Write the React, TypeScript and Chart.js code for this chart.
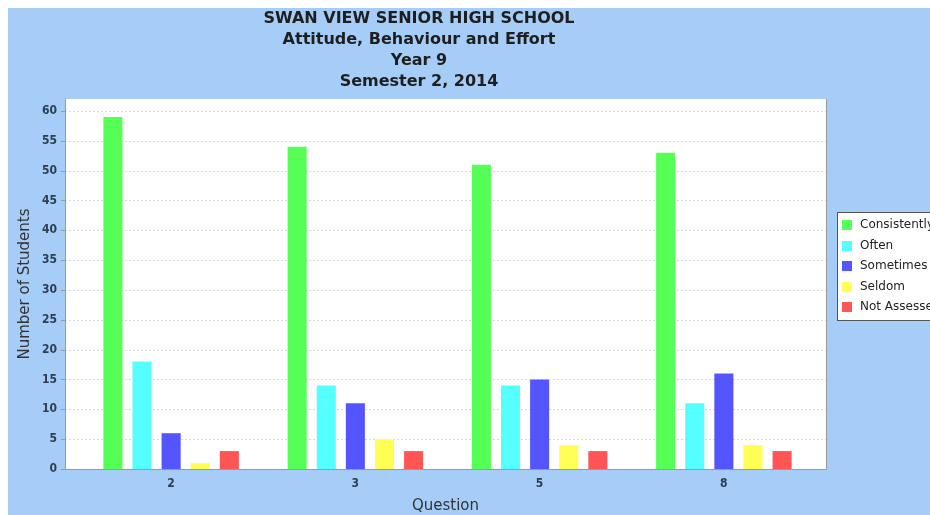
import React, { useEffect, useRef } from "react";
import { Chart, registerables } from "chart.js";

Chart.register(...registerables);

const titleLines = [
  "SWAN VIEW SENIOR HIGH SCHOOL",
  "Attitude, Behaviour and Effort",
  "Year 9",
  "Semester 2, 2014",
];
const categories = ["2", "3", "5", "8"];
const seriesNames = ["Consistently", "Often", "Sometimes", "Seldom", "Not Assessed"];
const consistently = [59, 54, 51, 53];
const often = [18, 14, 14, 11];
const sometimes = [6, 11, 15, 16];
const seldom = [1, 5, 4, 4];
const notAssessed = [3, 3, 3, 3];
const seriesColors = ["#55ff55", "#55ffff", "#5555ff", "#ffff55", "#ff5555"];
const yTitle = "Number of Students";
const xTitle = "Question";
const yMax = 62;
const yStep = 5;

const BG = "#a6cdf8";

if (typeof document !== "undefined") {
  document.body.style.margin = "8px 0 0 8px";
  document.body.style.overflow = "hidden";
}

const decor = {
  id: "decor",
  beforeDraw(chart: any) {
    const { ctx, chartArea, scales } = chart;
    const y = scales.y;
    const L = chartArea.left - 14;
    const R = chartArea.right + 10;
    ctx.save();
    ctx.fillStyle = BG;
    ctx.fillRect(0, 0, chart.width, chart.height);
    ctx.fillStyle = "#ffffff";
    ctx.fillRect(L, chartArea.top, R - L, chartArea.bottom - chartArea.top);
    ctx.strokeStyle = "#dadada";
    ctx.lineWidth = 1;
    ctx.setLineDash([2, 2]);
    for (let v = 0; v <= yMax; v += yStep) {
      const py = Math.round(y.getPixelForValue(v)) + 0.5;
      ctx.beginPath();
      ctx.moveTo(L, py);
      ctx.lineTo(R, py);
      ctx.stroke();
    }
    ctx.restore();
  },
  afterDraw(chart: any) {
    const { ctx, chartArea, scales } = chart;
    const y = scales.y;
    const L = chartArea.left - 14;
    const R = chartArea.right + 10;
    ctx.save();
    ctx.strokeStyle = "#9a9a9a";
    ctx.lineWidth = 1;
    ctx.beginPath();
    ctx.moveTo(L + 0.5, chartArea.top);
    ctx.lineTo(L + 0.5, chartArea.bottom + 0.5);
    ctx.lineTo(R + 0.5, chartArea.bottom + 0.5);
    ctx.lineTo(R + 0.5, chartArea.top);
    ctx.stroke();
    for (let v = 0; v <= yMax; v += yStep) {
      const py = Math.round(y.getPixelForValue(v)) + 0.5;
      ctx.beginPath();
      ctx.moveTo(L - 4, py);
      ctx.lineTo(L, py);
      ctx.stroke();
    }
    // title
    ctx.fillStyle = "#1e1e1e";
    ctx.font = "bold 16px 'DejaVu Sans', sans-serif";
    ctx.textAlign = "center";
    ctx.textBaseline = "middle";
    titleLines.forEach((t, i) => ctx.fillText(t, 411, 11 + i * 21));
    // axis titles
    ctx.fillStyle = "#333333";
    ctx.font = "15px 'DejaVu Sans', sans-serif";
    ctx.fillText(xTitle, (L + R) / 2, 498);
    ctx.save();
    ctx.translate(17, (chartArea.top + chartArea.bottom) / 2);
    ctx.rotate(-Math.PI / 2);
    ctx.fillText(yTitle, 0, 0);
    ctx.restore();
    // legend
    const lx = 829.5, ly = 204.5;
    ctx.fillStyle = "#ffffff";
    ctx.fillRect(lx, ly, 200, 108);
    ctx.strokeStyle = "#555555";
    ctx.strokeRect(lx, ly, 200, 108);
    ctx.font = "12px 'DejaVu Sans', sans-serif";
    ctx.textAlign = "left";
    seriesNames.forEach((n, i) => {
      const cy = 217 + i * 20.5;
      ctx.fillStyle = seriesColors[i];
      ctx.fillRect(834, Math.round(cy - 5), 10, 10);
      ctx.fillStyle = "#222222";
      ctx.fillText(n, 852, cy);
    });
    ctx.restore();
  },
};

export default function App() {
  const ref = useRef<HTMLCanvasElement>(null);
  useEffect(() => {
    const values = [consistently, often, sometimes, seldom, notAssessed];
    const chart = new Chart(ref.current as HTMLCanvasElement, {
      type: "bar",
      data: {
        labels: categories,
        datasets: seriesNames.map((n, i) => ({
          label: n,
          data: values[i],
          backgroundColor: seriesColors[i],
          borderWidth: 0,
          categoryPercentage: 0.79,
          barPercentage: 0.655,
        })),
      },
      options: {
        responsive: false,
        animation: false,
        layout: { padding: { top: 91, right: 114, left: 0, bottom: 0 } },
        plugins: {
          legend: { display: false },
          title: { display: false },
          tooltip: { enabled: false },
        },
        scales: {
          x: {
            grid: { display: false, drawTicks: false },
            border: { display: false },
            ticks: {
              padding: 8,
              color: "#2e3e4e",
              font: { family: "'DejaVu Sans Condensed', 'DejaVu Sans'", size: 12, weight: "bold" },
            },
            afterFit: (s: any) => {
              s.height = 46;
            },
          },
          y: {
            min: 0,
            max: yMax,
            grid: { display: false, drawTicks: false },
            border: { display: false },
            ticks: {
              stepSize: yStep,
              includeBounds: false,
              padding: 22,
              color: "#2e3e4e",
              font: { family: "'DejaVu Sans Condensed', 'DejaVu Sans'", size: 12, weight: "bold" },
            },
            afterFit: (s: any) => {
              s.width = 71;
            },
          },
        },
      },
      plugins: [decor],
    });
    return () => chart.destroy();
  }, []);
  return (
    <div style={{ width: 922, height: 507 }}>
      <canvas ref={ref} width={922} height={507} style={{ display: "block" }} />
    </div>
  );
}
